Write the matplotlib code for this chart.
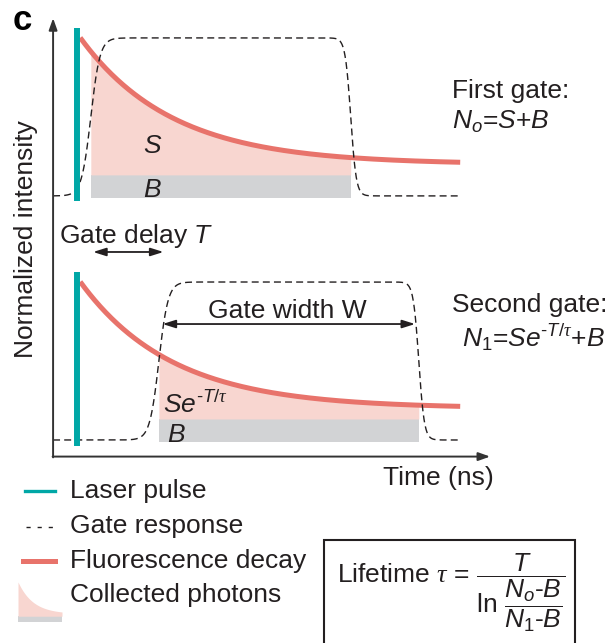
import numpy as np
import matplotlib

matplotlib.use('Agg')

import matplotlib.pyplot as plt
from matplotlib.lines import Line2D
from matplotlib.patches import Rectangle

plt.rcParams['font.family'] = ['Liberation Sans', 'DejaVu Sans']
plt.rcParams['mathtext.fontset'] = 'custom'
plt.rcParams['mathtext.rm'] = 'Liberation Sans'
plt.rcParams['mathtext.it'] = 'Liberation Sans:italic'
plt.rcParams['mathtext.bf'] = 'Liberation Sans:bold'
plt.rcParams['mathtext.sf'] = 'Liberation Serif:italic'

# schematic parameters (time in ns, intensity normalised to gate height)
tau = 2.0
decay_amp = 0.83
decay_floor = 0.20
decay_start = 0.07
gate_open = [0.30, 1.78]        # first / second gate opening time
gate_width = 5.65               # W
gate_rise = 0.20
gate_fall = 0.12
bg_band = [-0.013, 0.133]       # B level
pulse_span = [-0.035, 1.063]
panel_offset = [1.545, 0.0]     # vertical position of the two panels
t_begin, t_end = -0.52, 8.33

TEAL = '#00A7A6'
RED = '#E8736B'
PINK = '#F8D6D0'
GRAY = '#D2D3D5'
INK = '#231F20'
FS = 19

W_PX, H_PX = 612, 643


def decay(t):
    return decay_floor + decay_amp * np.exp(-t / tau)


def gate(t, t0):
    up = 0.5 * (1 + np.tanh((t - t0) / gate_rise))
    down = 0.5 * (1 - np.tanh((t - t0 - gate_width) / gate_fall))
    return up * down


def at(x, y):
    return x / W_PX, 1 - y / H_PX


fig = plt.figure(figsize=(W_PX / 100, H_PX / 100), dpi=100)
ax = fig.add_axes([0, 0, 1, 1])
ax.set_xlim(-1.674, 11.63)
ax.set_ylim(-1.285, 2.785)
ax.axis('off')

t_curve = np.linspace(decay_start, t_end, 400)
t_gate = np.linspace(t_begin, t_end, 800)

for t0, off in zip(gate_open, panel_offset):
    t_win = np.linspace(t0, t0 + gate_width, 300)
    ax.fill_between(t_win, bg_band[0] + off, bg_band[1] + off, color=GRAY, lw=0, zorder=1)
    ax.fill_between(t_win, bg_band[1] + off, decay(t_win) + off, color=PINK, lw=0, zorder=1)
    ax.plot(t_curve, decay(t_curve) + off, color=RED, lw=3.6, solid_capstyle='butt', zorder=2)
    ax.plot(t_gate, gate(t_gate, t0) + off, color=INK, lw=1.0, dashes=(5, 3), zorder=3)
    ax.vlines(0, pulse_span[0] + off, pulse_span[1] + off, color=TEAL, lw=4.3, zorder=4)

# axes arrows
axis_kw = dict(arrowstyle='-|>,head_length=0.7,head_width=0.25', color='#333333',
               lw=1.4, mutation_scale=10, shrinkA=0, shrinkB=0)
ax.annotate('', xy=(t_begin, 2.67), xytext=(t_begin, -0.11), arrowprops=axis_kw)
ax.annotate('', xy=(8.98, -0.105), xytext=(t_begin - 0.01, -0.105), arrowprops=axis_kw)

# gate delay / gate width arrows
span_kw = dict(arrowstyle='<|-|>,head_length=0.7,head_width=0.22', color=INK,
               lw=1.3, mutation_scale=11, shrinkA=0, shrinkB=0)
ax.annotate('', xy=(gate_open[1] + 0.1, 1.19), xytext=(gate_open[0] + 0.05, 1.19), arrowprops=span_kw)
ax.annotate('', xy=(gate_open[1] + gate_width - 0.08, 0.734), xytext=(gate_open[1] + 0.08, 0.734),
            arrowprops=span_kw)

txt = dict(transform=fig.transFigure, color=INK, fontsize=FS, va='baseline')
fig.text(*at(13, 30), 'c', fontsize=25, fontweight='bold', transform=fig.transFigure,
         color='black', va='baseline')
fig.text(*at(26, 239), 'Normalized intensity', rotation=90, ha='center', va='center',
         transform=fig.transFigure, color=INK, fontsize=FS)
fig.text(*at(143, 153), '$S$', **txt)
fig.text(*at(143, 197), '$B$', **txt)
fig.text(*at(59, 243), 'Gate delay $T$', **txt)
fig.text(*at(208, 318), 'Gate width W', **txt)
fig.text(*at(163, 413), r'$Se^{\text{-}T/\mathsf{\tau}}$', **txt)
fig.text(*at(167, 442), '$B$', **txt)
fig.text(*at(452, 98), 'First gate:', **txt)
fig.text(*at(452, 129), '$N_o$=$S$+$B$', **txt)
fig.text(*at(452, 312), 'Second gate:', **txt)
fig.text(*at(462, 347), r'$N_1$=$Se^{\text{-}T/\mathsf{\tau}}$+$B$', **txt)
fig.text(*at(383, 485), 'Time (ns)', **txt)

# legend
legend_rows = ['Laser pulse', 'Gate response', 'Fluorescence decay', 'Collected photons']
legend_base = [498, 533, 568, 602]
for label, yb in zip(legend_rows, legend_base):
    fig.text(*at(70, yb), label, **txt)

fig.add_artist(Line2D([25 / W_PX, 55 / W_PX], [1 - 491 / H_PX] * 2, color=TEAL, lw=2.4))
fig.add_artist(Line2D([26 / W_PX, 54 / W_PX], [1 - 527 / H_PX] * 2, color=INK, lw=1.0,
                      dashes=(3, 5)))
fig.add_artist(Line2D([23 / W_PX, 55 / W_PX], [1 - 561 / H_PX] * 2, color=RED, lw=3.6))

icon = fig.add_axes([18 / W_PX, 1 - 622 / H_PX, 44 / W_PX, 40 / H_PX])
t_icon = np.linspace(decay_start, 6, 100)
icon.fill_between(t_icon, bg_band[0], bg_band[1], color=GRAY, lw=0)
icon.fill_between(t_icon, bg_band[1], decay(t_icon), color=PINK, lw=0)
icon.set_xlim(decay_start, 6)
icon.set_ylim(bg_band[0], 1.0)
icon.axis('off')

# lifetime formula box
fig.add_artist(Rectangle(at(324, 660), 251 / W_PX, 120 / H_PX, transform=fig.transFigure,
                         fill=False, ec=INK, lw=1.5, clip_on=False))
fig.text(*at(337, 582),
         r'Lifetime $\mathsf{\tau}$ = $\dfrac{T}{\ln\,\dfrac{N_o\text{-}B}{N_1\text{-}B}}$', **txt)

fig.savefig('out.png', dpi=100)
